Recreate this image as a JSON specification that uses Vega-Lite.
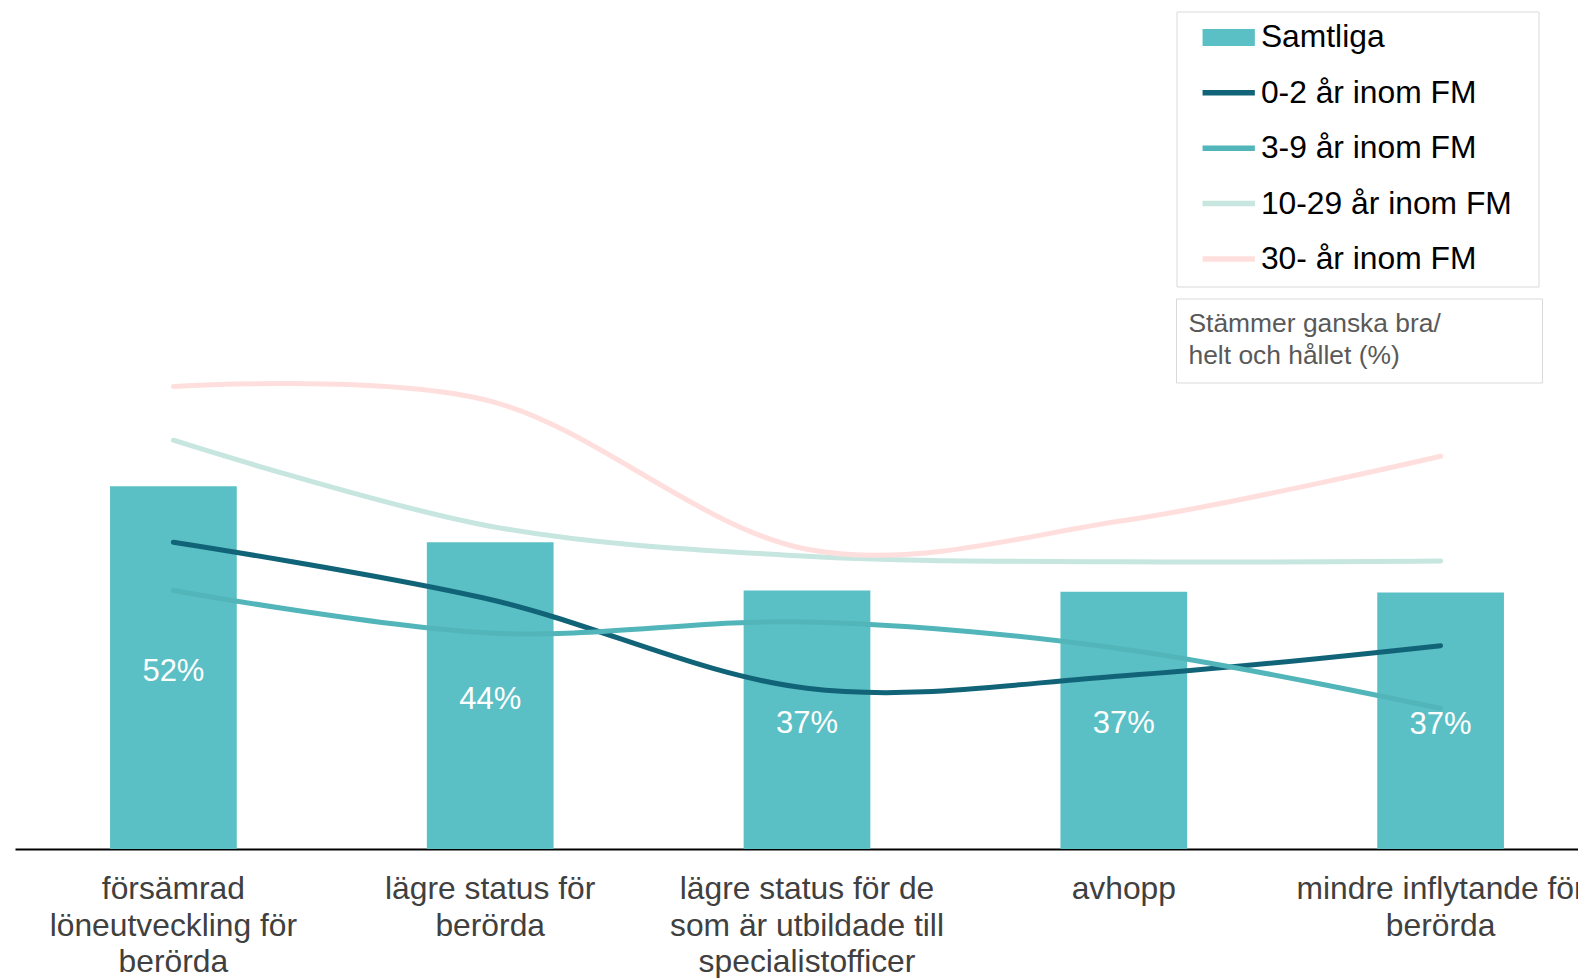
{
  "$schema": "https://vega.github.io/schema/vega-lite/v6.json",
  "width": 1563,
  "height": 849,
  "autosize": {"type": "none"},
  "padding": {"left": 15, "top": 0, "right": 0, "bottom": 129},
  "background": "#ffffff",
  "config": {"view": {"stroke": null}, "font": "Liberation Sans"},
  "data": {
    "values": [
      {"category": "försämrad löneutveckling för berörda", "series": "Samtliga", "value": 0.519},
      {"category": "lägre status för berörda", "series": "Samtliga", "value": 0.439},
      {"category": "lägre status för de som är utbildade till specialistofficer", "series": "Samtliga", "value": 0.370},
      {"category": "avhopp", "series": "Samtliga", "value": 0.368},
      {"category": "mindre inflytande för berörda", "series": "Samtliga", "value": 0.367},
      {"category": "försämrad löneutveckling för berörda", "series": "0-2 år inom FM", "value": 0.439},
      {"category": "lägre status för berörda", "series": "0-2 år inom FM", "value": 0.357},
      {"category": "lägre status för de som är utbildade till specialistofficer", "series": "0-2 år inom FM", "value": 0.230},
      {"category": "avhopp", "series": "0-2 år inom FM", "value": 0.248},
      {"category": "mindre inflytande för berörda", "series": "0-2 år inom FM", "value": 0.291},
      {"category": "försämrad löneutveckling för berörda", "series": "3-9 år inom FM", "value": 0.370},
      {"category": "lägre status för berörda", "series": "3-9 år inom FM", "value": 0.309},
      {"category": "lägre status för de som är utbildade till specialistofficer", "series": "3-9 år inom FM", "value": 0.325},
      {"category": "avhopp", "series": "3-9 år inom FM", "value": 0.286},
      {"category": "mindre inflytande för berörda", "series": "3-9 år inom FM", "value": 0.201},
      {"category": "försämrad löneutveckling för berörda", "series": "10-29 år inom FM", "value": 0.585},
      {"category": "lägre status för berörda", "series": "10-29 år inom FM", "value": 0.462},
      {"category": "lägre status för de som är utbildade till specialistofficer", "series": "10-29 år inom FM", "value": 0.419},
      {"category": "avhopp", "series": "10-29 år inom FM", "value": 0.411},
      {"category": "mindre inflytande för berörda", "series": "10-29 år inom FM", "value": 0.412},
      {"category": "försämrad löneutveckling för berörda", "series": "30- år inom FM", "value": 0.662},
      {"category": "lägre status för berörda", "series": "30- år inom FM", "value": 0.641},
      {"category": "lägre status för de som är utbildade till specialistofficer", "series": "30- år inom FM", "value": 0.429},
      {"category": "avhopp", "series": "30- år inom FM", "value": 0.470},
      {"category": "mindre inflytande för berörda", "series": "30- år inom FM", "value": 0.562}
    ]
  },
  "resolve": {"scale": {"y": "independent", "color": "independent"}},
  "layer": [
    {
      "transform": [{"filter": "datum.series === 'Samtliga'"}],
      "mark": {"type": "bar"},
      "encoding": {
        "x": {
          "field": "category", "type": "nominal", "sort": null,
          "scale": {"range": [0, 1584], "paddingInner": 0.6, "paddingOuter": 0.3},
          "axis": {
            "title": null, "ticks": false, "tickSize": 0, "grid": false,
            "domainColor": "#000000", "domainWidth": 1.8,
            "labelFont": "Liberation Sans", "labelFontSize": 31.8, "labelColor": "#404040",
            "labelPadding": 24.5, "labelLineHeight": 36.7, "labelLimit": 600,
            "labelOverlap": false, "labelBaseline": "top", "labelAngle": 0,
            "labelExpr": "datum.value === 'försämrad löneutveckling för berörda' ? ['försämrad', 'löneutveckling för', 'berörda'] : datum.value === 'lägre status för berörda' ? ['lägre status för', 'berörda'] : datum.value === 'lägre status för de som är utbildade till specialistofficer' ? ['lägre status för de', 'som är utbildade till', 'specialistofficer'] : datum.value === 'mindre inflytande för berörda' ? ['mindre inflytande för', 'berörda'] : datum.label"
          }
        },
        "y": {"field": "value", "type": "quantitative", "scale": {"domain": [0, 1.215]}, "axis": null},
        "color": {
          "field": "series", "type": "nominal",
          "scale": {"domain": ["Samtliga"], "range": ["#5BC0C5"]},
          "legend": {
            "title": null,
            "orient": "none", "legendX": 1161.5, "legendY": 11.5,
            "direction": "vertical",
            "padding": 10,
            "labelFont": "Liberation Sans", "labelFontSize": 31.8, "labelColor": "transparent", "labelOpacity": 0,
            "labelLimit": 600, "labelOffset": 3,
            "symbolType": "M-0.54,-0.25H1V0.25H-0.54Z",
            "symbolSize": 4610, "symbolStrokeWidth": 5.5, "symbolStrokeColor": "transparent",
            "symbolOffset": -2.6, "symbolOpacity": 1,
            "clipHeight": 31.8, "rowPadding": 22.4
          }
        }
      }
    },
    {
      "transform": [{"filter": "datum.series !== 'Samtliga'"}],
      "mark": {"type": "line", "interpolate": "cardinal", "strokeWidth": 5, "strokeCap": "round", "strokeJoin": "round"},
      "encoding": {
        "x": {"field": "category", "type": "nominal", "sort": null},
        "y": {"field": "value", "type": "quantitative", "scale": {"domain": [0, 1.215]}, "axis": null},
        "color": {
          "field": "series", "type": "nominal",
          "scale": {
            "domain": ["Samtliga", "0-2 år inom FM", "3-9 år inom FM", "10-29 år inom FM", "30- år inom FM"],
            "range": ["transparent", "#116478", "#52B5BA", "#C6E6DF", "#FFDFDD"]
          },
          "legend": {
            "title": "M", "titleOrient": "right", "titleFontSize": 10, "titlePadding": 8,
            "titleColor": "transparent", "titleOpacity": 0,
            "orient": "none", "legendX": 1161.5, "legendY": 11.5,
            "direction": "vertical",
            "padding": 10,
            "strokeColor": "#d9d9d9",
            "labelFont": "Liberation Sans", "labelFontSize": 31.8, "labelColor": "#000000",
            "labelLimit": 600, "labelOffset": 3,
            "symbolType": "M-0.54,0H1",
            "symbolSize": 4610, "symbolStrokeWidth": 5.5, "symbolOffset": -2.6, "symbolOpacity": 1,
            "clipHeight": 31.8, "rowPadding": 22.4
          }
        }
      }
    },
    {
      "transform": [{"filter": "datum.series === 'Samtliga'"}],
      "mark": {"type": "text", "color": "#ffffff", "font": "Liberation Sans", "fontSize": 31, "baseline": "middle", "align": "center", "dy": 4},
      "encoding": {
        "x": {"field": "category", "type": "nominal", "sort": null},
        "y": {"field": "value", "type": "quantitative", "scale": {"domain": [0, 2.43]}, "axis": null},
        "text": {"field": "value", "type": "quantitative", "format": ".0%"}
      }
    },
    {
      "transform": [{"filter": "datum.series === 'Samtliga'"}],
      "mark": {"type": "point", "opacity": 0},
      "encoding": {
        "x": {"field": "category", "type": "nominal", "sort": null},
        "y": {"field": "value", "type": "quantitative", "scale": {"domain": [0, 1.215]}, "axis": null},
        "shape": {
          "datum": "note", "type": "nominal",
          "legend": {
            "title": ["Stämmer ganska bra/", "helt och hållet (%)"],
            "orient": "none", "legendX": 1161, "legendY": 298.5,
            "padding": 12.5,
            "strokeColor": "#d9d9d9", "fillColor": "#ffffff",
            "titleFont": "Liberation Sans", "titleFontSize": 26.4, "titleFontWeight": "normal",
            "titleColor": "#595959", "titleLineHeight": 31.7, "titleLimit": 1000, "titlePadding": -20,
            "symbolType": "M-1,0H1", "symbolSize": 113569, "symbolOpacity": 0, "symbolStrokeWidth": 0,
            "clipHeight": 1,
            "labelFontSize": 0, "labelExpr": "''",
            "encode": {
              "symbols": {"shape": {"value": "M-1,0H1"}, "opacity": {"value": 0}}
            }
          }
        }
      }
    }
  ]
}
